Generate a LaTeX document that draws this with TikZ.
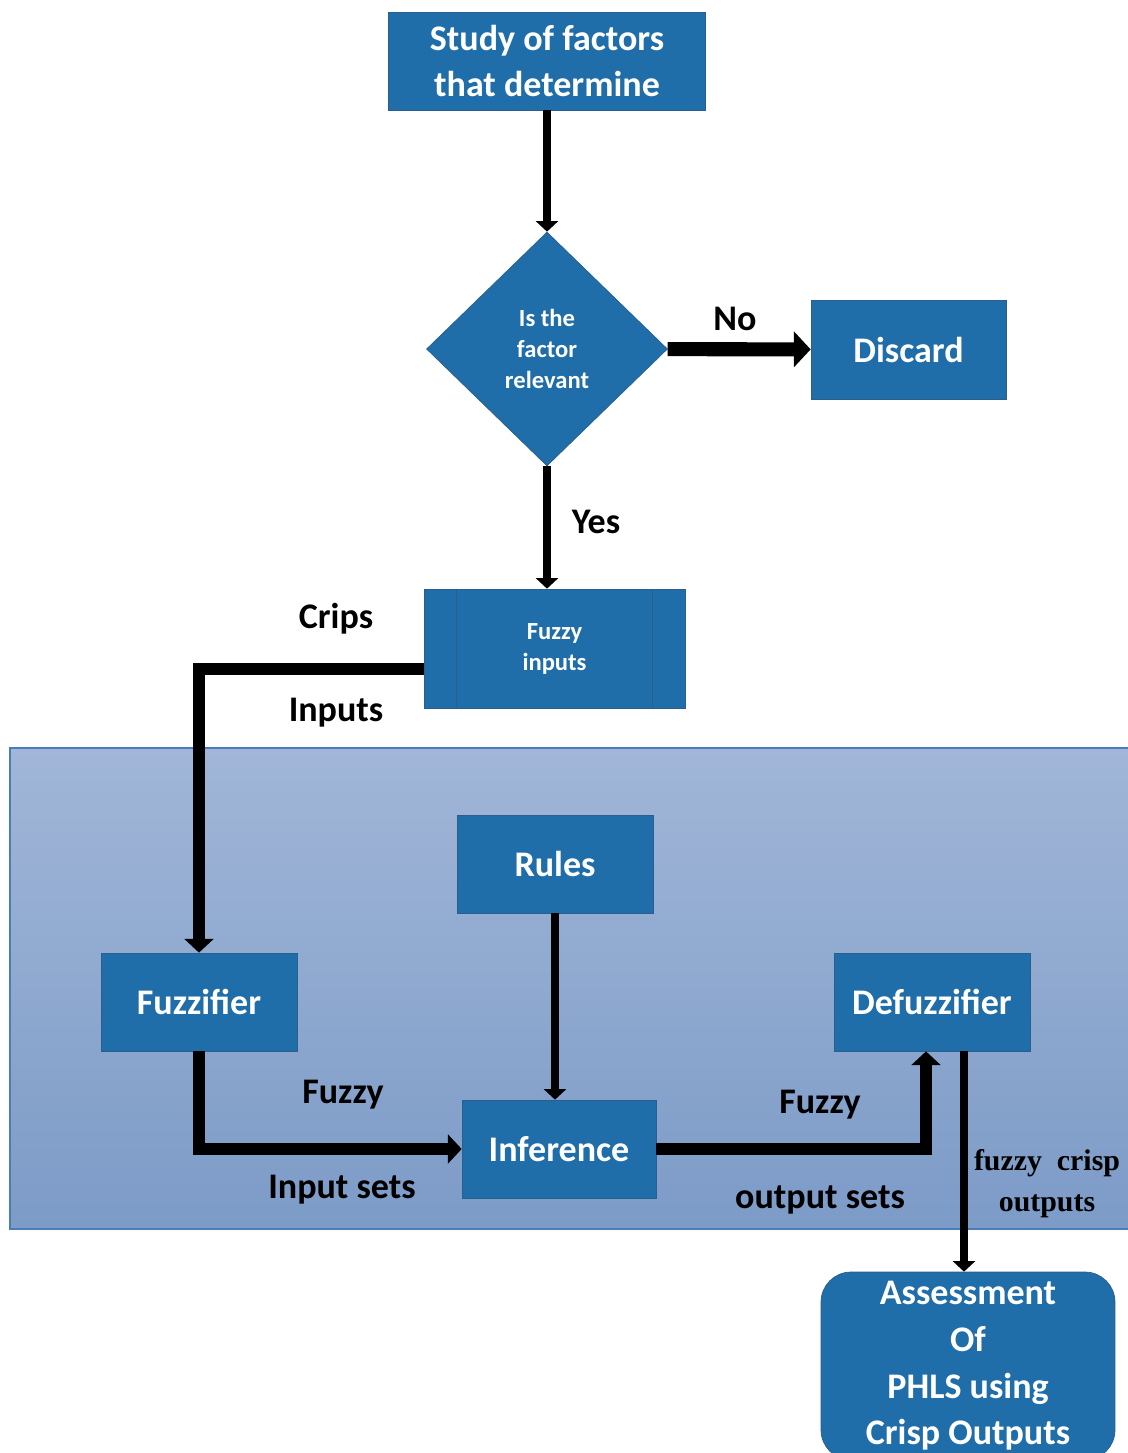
\documentclass[tikz,border=0pt]{standalone}
\usepackage{fontspec}
\setmainfont{Carlito}
\newfontfamily\serifbf{Liberation Serif}
\usetikzlibrary{arrows.meta,shapes.geometric}
\definecolor{boxblue}{HTML}{1F6DA9}
\definecolor{boxline}{HTML}{2A5E8C}
\definecolor{paneltop}{HTML}{A1B6D8}
\definecolor{panelbot}{HTML}{7C9BC7}
\definecolor{panelline}{HTML}{4A7EBB}

\begin{document}
\begin{tikzpicture}[x=0.02cm,y=-0.02cm]
\tikzstyle{every node}=[inner sep=0pt]
\tikzstyle{bigtext}=[font=\bfseries\fontsize{20.5}{26.6}\selectfont]
\tikzstyle{smalltext}=[font=\bfseries\fontsize{14}{17.6}\selectfont]
\tikzstyle{box}=[draw=boxline, fill=boxblue, text=white, align=center, minimum width=3.92cm, minimum height=1.96cm, bigtext]
\tikzstyle{decision}=[diamond, draw=boxline, fill=boxblue, text=white, align=center, minimum width=4.82cm, minimum height=4.68cm, smalltext]
\tikzstyle{lbl}=[bigtext]
\tikzstyle{serif lbl}=[align=center, font=\serifbf\bfseries\fontsize{17}{23.3}\selectfont]
\tikzstyle{flow}=[line width=5pt, -{Triangle[width=0pt 2.5,length=0pt 1.2]}]
\tikzstyle{wideflow}=[flow, line width=8pt]
\tikzstyle{elbowflow}=[flow, line width=6.5pt]
\useasboundingbox (0,0) rectangle (1128,1453);
\clip (0,0) rectangle (1128,1453);
\shade[top color=paneltop, bottom color=panelbot, draw=panelline, line width=1.2pt] (10,748) rectangle (1140,1229);
\draw (547,61) node (study) [box, minimum width=6.34cm] {Study of factors\\that determine};
\draw (547,349) node (relevant) [decision] {Is the\\factor\\relevant};
\draw (908.5,349.5) node (discard) [box, minimum width=3.9cm, minimum height=1.98cm] {Discard};
\draw (554.5,648.5) node (fin) [box, minimum width=5.22cm, minimum height=2.38cm, smalltext] {Fuzzy\\inputs};
\draw[boxline] ([xshift=0.66cm]fin.north west) -- ([xshift=0.66cm]fin.south west);
\draw[boxline] ([xshift=-0.66cm]fin.north east) -- ([xshift=-0.66cm]fin.south east);
\draw (555,864) node (rules) [box] {Rules};
\draw (199,1002) node (fzr) [box] {Fuzzifier};
\draw (559,1149) node (inf) [box, minimum width=3.88cm] {Inference};
\draw (932,1002) node (dfz) [box] {Defuzzifier};
\draw (968,1366) node (phls) [box, rounded corners=0.6cm, minimum width=5.88cm, minimum height=3.76cm] {Assessment\\Of\\PHLS using\\Crisp Outputs};
\draw (735,319) node (no) [lbl] {No};
\draw (596,522) node (yes) [lbl] {Yes};
\draw (336,619) node (crips) [lbl] {Crips};
\draw (336,713) node (inputs) [lbl] {Inputs};
\draw (343,1095) node (fuzzyin) [lbl] {Fuzzy};
\draw (342,1190) node (insets) [lbl] {Input sets};
\draw (820,1105) node (fuzzyout) [lbl] {Fuzzy};
\draw (820,1200) node (outsets) [lbl] {output sets};
\draw (1047,1184) node (crispout) [serif lbl] {fuzzy\ \ crisp\\outputs};
\draw[flow] (study) -- (relevant);
\draw[wideflow] (relevant) -- (discard);
\draw[flow] (relevant) -- (relevant |- fin.north);
\draw[elbowflow] ([yshift=-0.41cm]fin.west) -| (fzr);
\draw[flow] (rules.south) -- (rules.south |- inf.north);
\draw[elbowflow] (fzr) |- (inf);
\draw[elbowflow] (inf) -| ([xshift=-0.12cm]dfz.south);
\draw[flow] ([xshift=0.64cm]dfz.south) -- ([xshift=0.64cm]dfz.south |- phls.north);
\end{tikzpicture}
\end{document}
